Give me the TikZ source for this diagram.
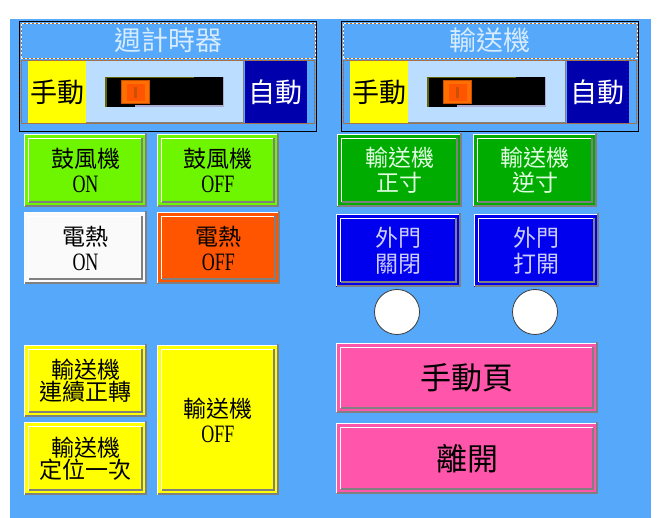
\documentclass[tikz,border=0pt]{standalone}
\usepackage{fontspec}
\usepackage{graphicx}
\newfontfamily\cjk{Noto Sans CJK TC}
\newfontfamily\latserif{Liberation Serif}
\definecolor{hmibg}{RGB}{85,168,250}
\definecolor{hmilime}{RGB}{110,245,0}
\definecolor{hmigreen}{RGB}{0,172,0}
\definecolor{hmiblue}{RGB}{0,0,238}
\definecolor{hmiorange}{RGB}{255,85,0}
\definecolor{hmipink}{RGB}{255,85,170}
\definecolor{hmiyellow}{RGB}{255,255,0}
\definecolor{hminavy}{RGB}{0,0,172}
\definecolor{hmilight}{RGB}{187,221,255}
\definecolor{hmiwhite}{RGB}{250,250,250}
\definecolor{hmititle}{RGB}{215,236,255}
\definecolor{hmigtext}{RGB}{225,255,225}
\definecolor{hmibtext}{RGB}{205,205,255}
\definecolor{hmidash}{RGB}{200,100,20}
\definecolor{hmishade}{RGB}{128,128,128}
\definecolor{hmiknob}{RGB}{255,110,0}
\definecolor{hmiknobedge}{RGB}{200,80,0}
\definecolor{hmistripe}{RGB}{205,80,0}
\definecolor{hmiolive}{RGB}{100,100,0}
\definecolor{hmilav}{RGB}{170,170,210}
\definecolor{hmiring}{RGB}{60,60,60}
\newcommand\lat[1]{{\latserif\fontsize{25}{25}\selectfont\scalebox{0.72}[1]{#1}}}
\tikzset{
  hmibtnshape/.style={rectangle, inner sep=0pt, outer sep=0pt, align=center},
  hmifont/.style={font=\cjk\fontsize{#1}{#1}\selectfont},
  hmiface/.style={rectangle, inner sep=0pt, outer sep=0pt},
  hmilamp/.style={circle, fill=white, draw=hmiring, line width=0.8pt, minimum size=45pt, inner sep=0pt},
}
% name, x1, y1, x2, y2, fill, text colour, text, size
\newcommand\hmibtn[9]{%
  \node[hmibtnshape, fill=#6, text=#7, hmifont=#9,
        minimum width={(#4-#2)*1pt}, minimum height={(#5-#3)*1pt}]
        (#1) at ({(#2+#4)/2},{(#3+#5)/2}) {#8};
  \draw[white, line width=1.2pt] ([shift={(0.6pt,0.6pt)}]#1.south west) |- ([shift={(-0.6pt,-0.6pt)}]#1.north east);
  \draw[hmishade, line width=2pt] ([shift={(-1pt,1pt)}]#1.north east) |- ([shift={(1pt,1pt)}]#1.south west);
  \draw[white, line width=1.5pt] ([shift={(4.5pt,5pt)}]#1.south west) |- ([shift={(-5pt,-4.5pt)}]#1.north east);
  \draw[hmishade, line width=1.8pt] ([shift={(-5pt,-4.5pt)}]#1.north east) |- ([shift={(4.5pt,5pt)}]#1.south west);
}
% prefix, title
\newcommand\hmigroup[2]{%
  \draw[black, line width=1pt] (19.5,21.5) rectangle (316,132);
  \node[hmiface, minimum width=294pt, minimum height=35pt, text=hmititle, hmifont=27]
       (#1t) at (168,40.5) {#2};
  \draw[white, line width=0.8pt, dash pattern=on 2pt off 2pt] (#1t.south west) rectangle (#1t.north east);
  \draw[hmidash, line width=0.8pt, dash pattern=on 2pt off 2pt, dash phase=2pt] (#1t.south west) rectangle (#1t.north east);
  \draw[hmidash, line width=0.8pt, dash pattern=on 2pt off 2pt] (21.5,60.5) rectangle (314.5,123.5);
  \draw[hmishade, line width=0.8pt, dash pattern=on 2pt off 2pt, dash phase=2pt] (21.5,60.5) rectangle (314.5,123.5);
  \node[hmiface, fill=hmiyellow, minimum width=58pt, minimum height=62pt, text=black, hmifont=27]
       (#1m) at (57,92) {手動};
  \node[hmiface, fill=hmilight, minimum width=158pt, minimum height=62pt]
       (#1s) at (165,92) {};
  \draw[hmishade, line width=1pt] ([shift={(-0.5pt,0pt)}]#1s.north east) |- ([shift={(0pt,0.5pt)}]#1s.south west);
  \node[hmiface, fill=hminavy, minimum width=62pt, minimum height=62pt, text=white, hmifont=27]
       (#1a) at (275.5,92) {自動};
  \node[hmiface, fill=black, minimum width=119pt, minimum height=30pt] (#1k) at (164.5,92) {};
  \draw[hmiolive, line width=1.5pt] ([shift={(0.75pt,0pt)}]#1k.south west) |- ([shift={(-30pt,-0.75pt)}]#1k.north east);
  \draw[hmilav, line width=1.5pt] ([shift={(-0.75pt,0pt)}]#1k.north east) |- ([shift={(30pt,0.75pt)}]#1k.south west);
  \node[hmiface, fill=hmiknob, draw=hmiknobedge,
        minimum width=28pt, minimum height=23pt] (#1n) at (135.5,92) {};
  \fill[hmiorange] (127,84.5) rectangle (145,101);
  \fill[hmistripe] (134,87) rectangle (137,98);
}
\begin{document}
\begin{tikzpicture}[x=1pt, y=-1pt]
\useasboundingbox (0,0) rectangle (661,518);
\fill[white] (0,0) rectangle (661,518);
\fill[hmibg] (10,19) rectangle (651,518);

\hmigroup{ga}{週計時器}
\begin{scope}[xshift=322pt]
\hmigroup{gb}{輸送機}
\end{scope}

\hmibtn{b1}{24}{134}{147}{207}{hmilime}{black}{鼓風機\\[2pt]\lat{ON}}{23}
\hmibtn{b2}{157}{134}{279}{207}{hmilime}{black}{鼓風機\\[2pt]\lat{OFF}}{23}
\hmibtn{b3}{24}{212}{147}{284}{hmiwhite}{black}{電熱\\[2pt]\lat{ON}}{23}
\hmibtn{b4}{157}{212}{280}{284}{hmiorange}{black}{電熱\\[2pt]\lat{OFF}}{23}

\hmibtn{b5}{337}{134}{462}{207}{hmigreen}{hmigtext}{輸送機\\[2pt]正寸}{23}
\hmibtn{b6}{473}{134}{597}{207}{hmigreen}{hmigtext}{輸送機\\[2pt]逆寸}{23}
\hmibtn{b7}{336}{214}{461}{287}{hmiblue}{hmibtext}{外門\\[3pt]關閉}{23}
\hmibtn{b8}{474}{214}{599}{287}{hmiblue}{hmibtext}{外門\\[3pt]打開}{23}

\node[hmilamp] (c1) at (397,312) {};
\node[hmilamp] (c2) at (535,312) {};

\hmibtn{b9}{336}{343}{598}{413}{hmipink}{black}{手動頁}{31}
\hmibtn{b10}{336}{423}{598}{494}{hmipink}{black}{離開}{31}

\hmibtn{b11}{24}{345}{147}{417}{hmiyellow}{black}{輸送機\\[-1pt]連續正轉}{23}
\hmibtn{b12}{24}{422}{147}{495}{hmiyellow}{black}{輸送機\\[-1pt]定位一次}{23}
\hmibtn{b13}{157}{345}{279}{495}{hmiyellow}{black}{輸送機\\[2pt]\lat{OFF}}{23}
\end{tikzpicture}
\end{document}
